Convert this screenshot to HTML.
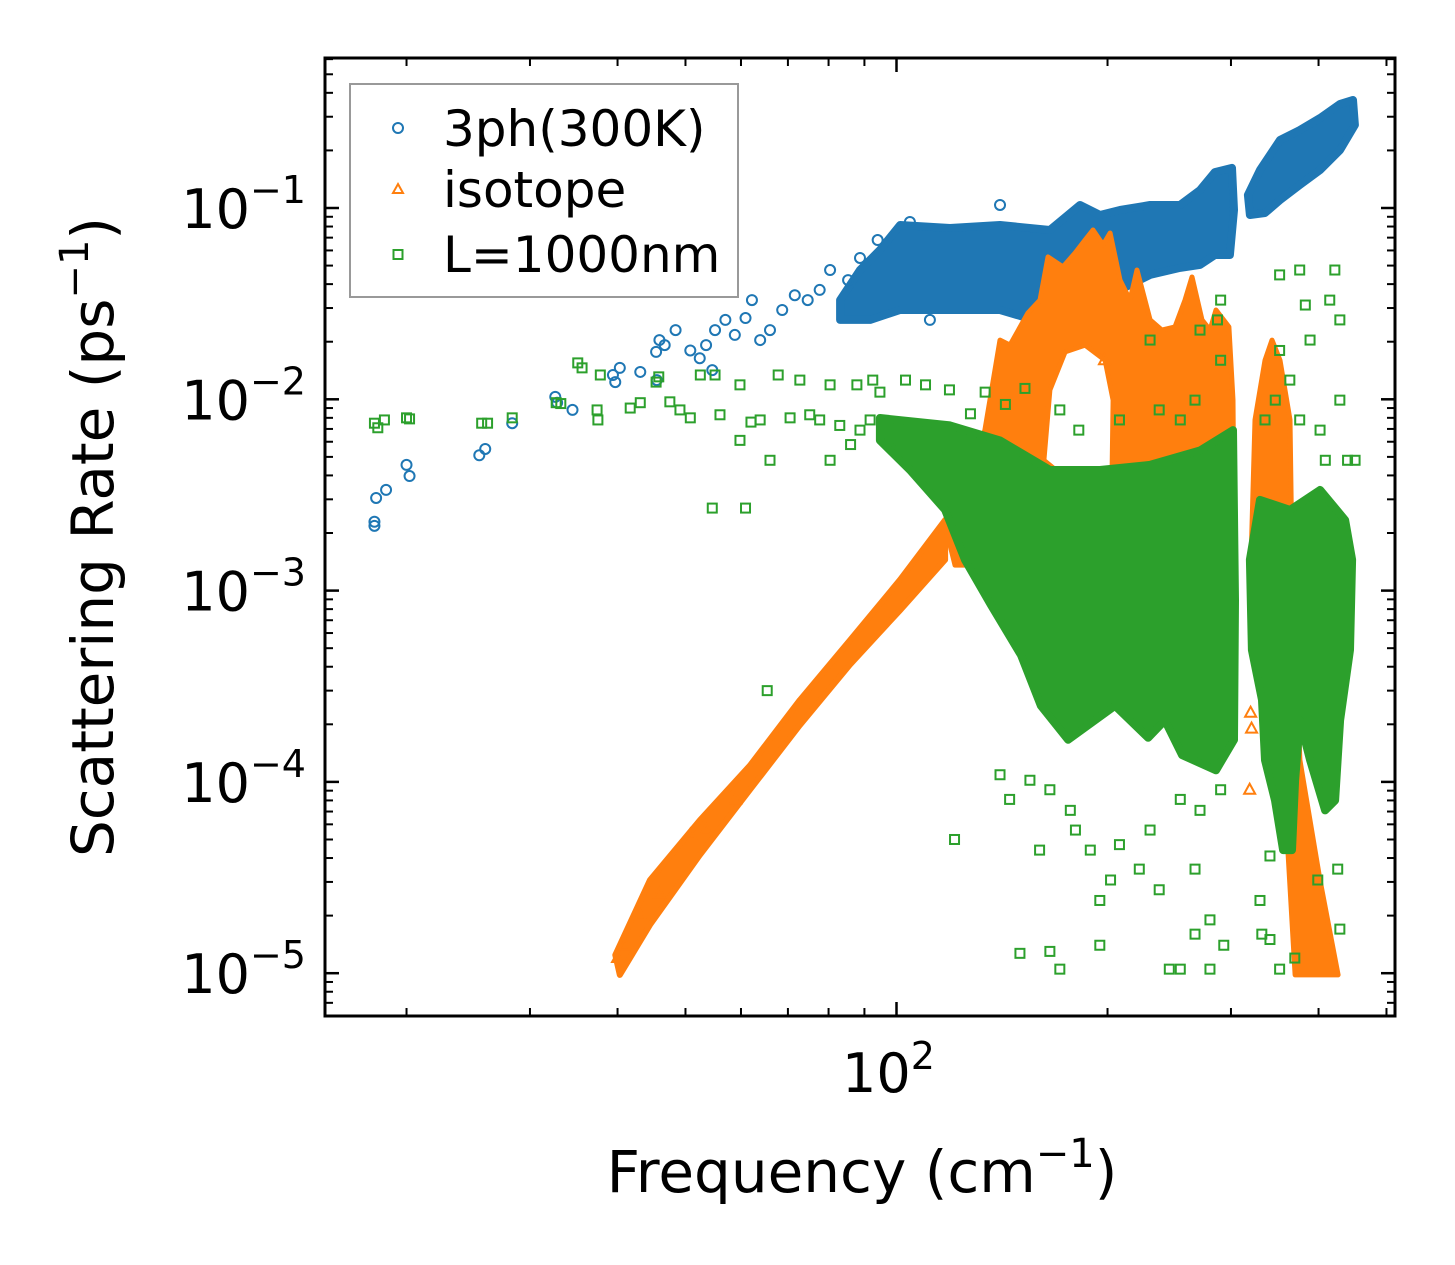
<!DOCTYPE html>
<html><head><meta charset="utf-8"><title>Scattering Rate vs Frequency</title>
<style>
html,body{margin:0;padding:0;background:#fff;}
svg{display:block;font-family:"DejaVu Sans","Liberation Sans",sans-serif;}
</style></head>
<body>
<svg id="chart" width="1455" height="1265" viewBox="0 0 1455 1265" xmlns="http://www.w3.org/2000/svg">
<rect x="0" y="0" width="1455" height="1265" fill="#fff"/>
<g id="marks"></g>
<g id="axes"></g>
<g id="legend">
  <rect x="350" y="84" width="388" height="213" fill="#fff" fill-opacity="0.8" stroke="#999" stroke-width="2"/>
  <g>
    <circle cx="398" cy="128" r="5" fill="none" stroke="#1f77b4" stroke-width="2"/>
    <text x="443" y="146" font-size="50" fill="#000">3ph(300K)</text>
  </g>
  <g>
    <polygon points="398,184 403,193 393,193" fill="none" stroke="#ff7f0e" stroke-width="2"/>
    <text x="443" y="207" font-size="50" fill="#000">isotope</text>
  </g>
  <g>
    <rect x="393.5" y="250" width="9" height="9" fill="none" stroke="#2ca02c" stroke-width="2"/>
    <text x="443" y="272" font-size="50" fill="#000">L=1000nm</text>
  </g>
</g>
<text x="862" y="1192" font-size="58" text-anchor="middle">Frequency (cm<tspan font-size="40" dy="-25">−1</tspan><tspan dy="25">)</tspan></text>
<text transform="translate(113,537) rotate(-90)" font-size="58" text-anchor="middle">Scattering Rate (ps<tspan font-size="40" dy="-25">−1</tspan><tspan dy="25">)</tspan></text>
</svg>
<script>
// ---- data ----
const blueFreq = [18.0,18.0,18.1,18.7,20.0,20.2,25.4,25.9,28.3,32.6,32.8,34.5,39.4,39.7,40.3,43.1,45.4,45.5,45.9,46.7,48.4,50.8,52.4,53.5,54.6,55.1,57.0,58.8,60.9,62.2,63.9,66.0,68.7,71.6,74.7,77.7,80.4,85.3,88.7,94.0,104.5,140.5,111.6];
const blueRate = [2.29e-3,2.18e-3,3.05e-3,3.36e-3,4.54e-3,3.97e-3,5.1e-3,5.5e-3,7.5e-3,0.0103,9.6e-3,8.8e-3,0.0134,0.0123,0.0146,0.0139,0.0177,0.0126,0.0204,0.0192,0.023,0.018,0.0164,0.0192,0.0142,0.023,0.026,0.0217,0.0266,0.033,0.0204,0.023,0.0293,0.035,0.033,0.0373,0.0474,0.042,0.0548,0.068,0.0845,0.1037,0.026];
const blueBand1Freq = [83.1,88.7,94.7,101.2,119.2,140.5,165.5,182.7,195.1,208.4,230,253.8,271,284.6,301,303,299,284.6,271,253.8,230,208.4,201.7,195.1,188.8,182.7,171.1,160.2,140.5,119.2,101.2,91.7,83.1];
const blueBand1Rate = [0.033,0.0474,0.0603,0.0815,0.0786,0.0815,0.0767,0.1037,0.0919,0.0976,0.1037,0.1037,0.124,0.154,0.162,0.0976,0.0568,0.0568,0.0504,0.0486,0.0447,0.0373,0.0293,0.033,0.0373,0.033,0.0276,0.0254,0.0293,0.0293,0.0293,0.026,0.026];
const blueBand2Freq = [317.2,330,352.4,376.3,402,429.3,448,450.8,429.3,402,376.3,352.4,335.5,319.3];
const blueBand2Rate = [0.117,0.158,0.2267,0.2557,0.2954,0.35,0.367,0.2716,0.201,0.158,0.132,0.110,0.0942,0.0919];

const isoLineFreq = [39.7,44.5,52.4,61.8,72.8,85.8,101.2,117.3,117.3,101.2,85.8,72.8,61.8,52.4,44.5,40.3];
const isoLineRate = [1.245e-5,3.07e-5,6.3e-5,1.22e-4,2.68e-4,5.5e-4,1.14e-3,2.34e-3,1.45e-3,7.9e-4,4.1e-4,1.98e-4,9.1e-5,4.15e-5,1.79e-5,9.8e-6];
const isoMainFreq = [117.3,123.2,133.7,140.5,145.2,154,160.2,164.5,172.8,179.8,185.8,190.7,197.1,201.7,208.4,215.3,220.3,230,239.1,249.6,258,264,272.8,280,285.6,298,302,303,294,140.5,121.2];
const isoMainRate = [2.2e-3,2.98e-3,6.9e-3,0.0204,0.0192,0.0283,0.033,0.0555,0.0492,0.0582,0.068,0.0767,0.0641,0.074,0.042,0.033,0.0474,0.026,0.023,0.0239,0.033,0.0436,0.026,0.023,0.0293,0.0239,9.9e-3,2.34e-3,1.36e-3,1.36e-3,1.36e-3];
const isoHoleFreq = [162.3,165.5,174,185.8,198.4,203.7,203,182.7];
const isoHoleRate = [4.8e-3,0.0112,0.0177,0.0192,0.016,9.9e-3,4.27e-3,3.36e-3];
const isoHighFreq = [319.3,324.6,335.5,343.3,352.4,364.2,366.6,376.3,401.9,426.5,370.3,358.3,341.2,324.6];
const isoHighRate = [8.9e-4,7.8e-3,0.016,0.0204,0.016,7.8e-3,1.45e-3,1.3e-4,3.07e-5,9.8e-6,9.8e-6,8.0e-5,2.68e-4,4.9e-4];
const isoFreq = [40,41,43.1,45.9,50.8,53.5,59,319,320,198,321];
const isoRate = [1.2e-5,1.4e-5,2.0e-5,2.6e-5,5.3e-5,5.6e-5,8.1e-5,9.1e-5,2.3e-4,0.016,1.9e-4];

const lenBand1Freq = [94.7,119.2,140.5,165.5,195.1,230,271,302,304,303,285.6,255.5,241.5,228.5,205,175.7,160.7,150.5,136.4,125.2,117.3,104.5,94.7];
const lenBand1Rate = [7.98e-3,7.3e-3,6.1e-3,4.27e-3,4.27e-3,4.54e-3,5.4e-3,6.9e-3,8.9e-4,1.66e-4,1.15e-4,1.38e-4,2.1e-4,1.7e-4,2.5e-4,1.66e-4,2.5e-4,4.6e-4,8.4e-4,1.45e-3,2.64e-3,4.27e-3,6.1e-3];
const lenBand2Freq = [319.3,330,364.2,402,436.4,446.6,443.6,429.3,422.3,408.7,389,376.3,370.3,366.6,356,346.7,335.5,332.2,321.4];
const lenBand2Rate = [1.45e-3,2.98e-3,2.64e-3,3.36e-3,2.34e-3,1.45e-3,4.9e-4,2.1e-4,8.0e-5,7.1e-5,1.3e-4,2.1e-4,1.02e-4,4.4e-5,4.4e-5,8.0e-5,1.3e-4,2.68e-4,4.9e-4];
const lenFreq = [18.0,18.2,18.6,20.0,20.2,25.6,26.1,28.3,32.7,33.2,35.1,35.6,37.4,37.5,37.8,41.7,43.1,45.4,45.8,47.5,49.1,52.5,55.1,54.6,59.8,60.9,63.9,65.4,67.8,72.8,75.2,77.7,80.4,87.8,92.5,94.7,103,110,119,127.5,133.8,143,121,
 50.8,56,62,70.5,83,88.7,91.7,98,86,80.4,59.8,66,
 150,165.5,171,195,202,208,230,245,254,266.6,280,293,266.6,222,160,180,195,237,189,280,140.5,145,155,165.5,177,254,271,290,
 152.5,230,290,271,287,352,376,383,415,422,429,389,409,440,402,352,364,347,335.5,376,429,290,266.6,254,237,208,182,171,
 332,341,352,370,330,399,426,341,429,451];
const lenRate = [7.5e-3,7.1e-3,7.8e-3,8.0e-3,7.9e-3,7.5e-3,7.5e-3,8.0e-3,9.6e-3,9.5e-3,0.0155,0.0146,8.8e-3,7.8e-3,0.0134,9.0e-3,9.6e-3,0.0123,0.0131,9.7e-3,8.8e-3,0.0134,0.0134,2.7e-3,0.0119,2.7e-3,7.8e-3,3.0e-4,0.0134,0.0126,8.3e-3,7.8e-3,0.0119,0.0119,0.0126,0.0109,0.0126,0.0119,0.0112,8.4e-3,0.0109,9.4e-3,5.0e-5,
 8.0e-3,8.3e-3,7.6e-3,8.0e-3,7.3e-3,6.9e-3,7.8e-3,6.1e-3,5.8e-3,4.8e-3,6.1e-3,4.8e-3,
 1.27e-5,1.3e-5,1.05e-5,2.4e-5,3.07e-5,4.7e-5,5.6e-5,1.05e-5,1.05e-5,1.6e-5,1.05e-5,1.4e-5,3.5e-5,3.5e-5,4.4e-5,5.6e-5,1.4e-5,2.73e-5,4.4e-5,1.9e-5,1.09e-4,8.1e-5,1.02e-4,9.1e-5,7.1e-5,8.1e-5,7.1e-5,9.1e-5,
 0.0114,0.0204,0.033,0.023,0.026,0.0447,0.0474,0.0311,0.033,0.0474,0.026,0.0204,4.8e-3,4.8e-3,6.9e-3,0.018,0.0126,9.9e-3,7.8e-3,7.8e-3,9.9e-3,0.016,9.9e-3,7.8e-3,8.8e-3,7.8e-3,6.9e-3,8.8e-3,
 1.6e-5,1.5e-5,1.05e-5,1.2e-5,2.4e-5,3.07e-5,3.5e-5,4.1e-5,1.7e-5,4.8e-3];

const xMajorTicks = [100];
const xMinorTicks = [20,30,40,50,60,70,80,90,200,300,400,500];
const yMajorTicks = [1e-1,1e-2,1e-3,1e-4,1e-5];
const yTickExp = ["−1","−2","−3","−4","−5"];

// ---- scales ----
const L=325,R=1395,T=58,B=1016;
function xs(f){return 896.5+701*(Math.log10(f)-2);}
function ys(v){return 208-191.3*(Math.log10(v)+1);}
const NS="http://www.w3.org/2000/svg";
const marks=document.getElementById('marks');
const axes=document.getElementById('axes');
const BLUE="#1f77b4",ORANGE="#ff7f0e",GREEN="#2ca02c";

function mk(tag,attrs,parent){const e=document.createElementNS(NS,tag);for(const k in attrs)e.setAttribute(k,attrs[k]);parent.appendChild(e);return e;}
function polyD(fa,ra){return fa.map((f,i)=>(i?'L':'M')+xs(f).toFixed(1)+','+ys(ra[i]).toFixed(1)).join('')+'Z';}

const defs=mk('defs',{},marks);
const cp=mk('clipPath',{id:'clip'},defs);
mk('rect',{x:L,y:T,width:R-L,height:B-T},cp);
const gB=mk('g',{'clip-path':'url(#clip)'},marks);


const gO=mk('g',{'clip-path':'url(#clip)'},marks);


const gG=mk('g',{'clip-path':'url(#clip)'},marks);



[[blueBand1Freq,blueBand1Rate],[blueBand2Freq,blueBand2Rate]].forEach(function(b){
  const p=mk('path',{d:polyD(b[0],b[1]),fill:BLUE,stroke:BLUE,'stroke-width':8,'stroke-linejoin':'round'},gB);
  
  
});
blueFreq.forEach(function(f,i){
  const c=mk('circle',{cx:xs(f),cy:ys(blueRate[i]),r:5,fill:'none',stroke:BLUE,'stroke-width':2},gB);
  
  
});

const po1=mk('path',{d:polyD(isoLineFreq,isoLineRate),fill:ORANGE,stroke:ORANGE,'stroke-width':6,'stroke-linejoin':'round'},gO);


const po2=mk('path',{d:polyD(isoMainFreq,isoMainRate)+polyD(isoHoleFreq,isoHoleRate),fill:ORANGE,'fill-rule':'evenodd',stroke:ORANGE,'stroke-width':5,'stroke-linejoin':'round'},gO);


const po3=mk('path',{d:polyD(isoHighFreq,isoHighRate),fill:ORANGE,stroke:ORANGE,'stroke-width':5,'stroke-linejoin':'round'},gO);


isoFreq.forEach(function(f,i){
  const x=xs(f),y=ys(isoRate[i]);
  const t=mk('polygon',{points:x+','+(y-6)+' '+(x+5.5)+','+(y+4)+' '+(x-5.5)+','+(y+4),fill:'none',stroke:ORANGE,'stroke-width':2},gO);
  
  
});

[[lenBand1Freq,lenBand1Rate],[lenBand2Freq,lenBand2Rate]].forEach(function(b){
  const p=mk('path',{d:polyD(b[0],b[1]),fill:GREEN,stroke:GREEN,'stroke-width':8,'stroke-linejoin':'round'},gG);
  
  
});
lenFreq.forEach(function(f,i){
  const r=mk('rect',{x:xs(f)-4.5,y:ys(lenRate[i])-4.5,width:9,height:9,fill:'none',stroke:GREEN,'stroke-width':2},gG);
  
  
});

function line(x1,y1,x2,y2,w,name){
  const l=mk('line',{x1:x1,y1:y1,x2:x2,y2:y2,stroke:'#000','stroke-width':w},axes);
  
  
}
xMajorTicks.forEach(function(f){
  const x=xs(f);
  line(x,B,x,B-14,2.5,'x-major-tick');
  line(x,T,x,T+14,2.5,'x-major-tick-top');
  const t=mk('text',{x:x-8,y:1092,'font-size':54,'text-anchor':'middle'},axes);
  
  
  t.innerHTML='10<tspan font-size="38" dy="-23">2</tspan>';
});
xMinorTicks.forEach(function(f){
  const x=xs(f);
  if(x<L||x>R) return;
  line(x,B,x,B-8,2,'x-minor-tick');
  line(x,T,x,T+8,2,'x-minor-tick-top');
});
yMajorTicks.forEach(function(v,i){
  const y=ys(v);
  line(L,y,L+14,y,2.5,'y-major-tick');
  line(R,y,R-14,y,2.5,'y-major-tick-right');
  const t=mk('text',{x:306,y:y+20,'font-size':54,'text-anchor':'end'},axes);
  
  
  t.innerHTML='10<tspan font-size="38" dy="-25">'+yTickExp[i]+'</tspan>';
});
for(let e=-6;e<=0;e++){
  for(let m=2;m<=9;m++){
    const y=ys(m*Math.pow(10,e));
    if(y<T+1||y>B-1) continue;
    line(L,y,L+8,y,2,'y-minor-tick');
    line(R,y,R-8,y,2,'y-minor-tick-right');
  }
}
const fr=mk('rect',{x:L,y:T,width:R-L,height:B-T,fill:'none',stroke:'#000','stroke-width':3},axes);


</script>
</body></html>
